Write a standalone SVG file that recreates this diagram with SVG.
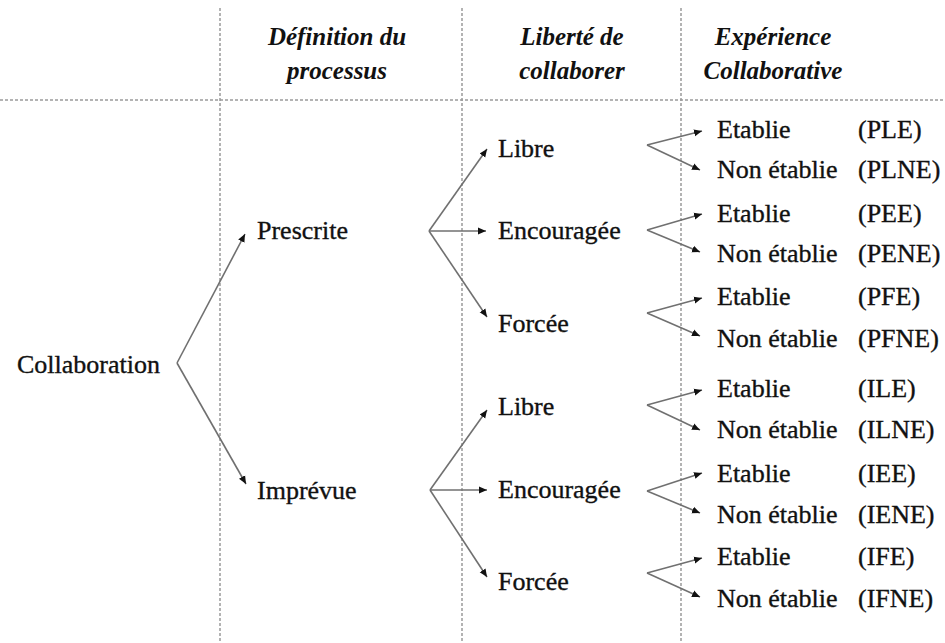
<svg xmlns="http://www.w3.org/2000/svg" width="945" height="643" viewBox="0 0 945 643">
<defs>
<style>
.t{font-family:'Liberation Serif','Times New Roman',serif;font-size:26px;fill:#111;stroke:#111;stroke-width:0.35}
.h{font-family:'Liberation Serif','Times New Roman',serif;font-size:25px;font-weight:bold;font-style:italic;fill:#111;text-anchor:middle}
.sep{stroke:#9a9a9a;stroke-width:1.5;stroke-dasharray:3 2;fill:none}
.c{stroke:#707070;stroke-width:1.6;fill:none;marker-end:url(#ah)}
</style>
<marker id="ah" markerUnits="userSpaceOnUse" markerWidth="9" markerHeight="8" refX="8" refY="4" orient="auto">
<path d="M0,0.5 L8,4 L0,7.5 Z" fill="#111"/>
</marker>
</defs>
<rect width="945" height="643" fill="#fff"/>
<g id="grid">
<line class="sep" x1="220" y1="8" x2="220" y2="643"/>
<line class="sep" x1="462" y1="8" x2="462" y2="643"/>
<line class="sep" x1="681" y1="8" x2="681" y2="643"/>
<line class="sep" x1="0" y1="100" x2="945" y2="100"/>
</g>
<g id="headers">
<text class="h" x="337" y="45">Définition du</text>
<text class="h" x="337" y="79">processus</text>
<text class="h" x="572" y="45">Liberté de</text>
<text class="h" x="572" y="79">collaborer</text>
<text class="h" x="773" y="45">Expérience</text>
<text class="h" x="773" y="79">Collaborative</text>
</g>
<g id="connectors">
<line class="c" x1="177" y1="363" x2="245" y2="234"/>
<line class="c" x1="177" y1="363" x2="246" y2="484"/>
<line class="c" x1="429" y1="231" x2="487" y2="149"/>
<line class="c" x1="429" y1="231" x2="486" y2="231"/>
<line class="c" x1="429" y1="231" x2="487" y2="317"/>
<line class="c" x1="430" y1="490" x2="487" y2="410"/>
<line class="c" x1="430" y1="490" x2="487" y2="490"/>
<line class="c" x1="430" y1="490" x2="487" y2="577"/>
<line class="c" x1="647" y1="145" x2="702" y2="131"/>
<line class="c" x1="647" y1="145" x2="700" y2="170"/>
<line class="c" x1="647" y1="230" x2="702" y2="214"/>
<line class="c" x1="647" y1="230" x2="700" y2="252"/>
<line class="c" x1="647" y1="313" x2="702" y2="298"/>
<line class="c" x1="647" y1="313" x2="700" y2="336"/>
<line class="c" x1="647" y1="405" x2="702" y2="390"/>
<line class="c" x1="647" y1="405" x2="700" y2="430"/>
<line class="c" x1="647" y1="491" x2="702" y2="473"/>
<line class="c" x1="647" y1="491" x2="700" y2="513"/>
<line class="c" x1="647" y1="573" x2="702" y2="558"/>
<line class="c" x1="647" y1="573" x2="700" y2="597"/>
</g>
<g id="nodes">
<g id="n-collaboration"><text class="t" x="17" y="373">Collaboration</text></g>
<g id="n-prescrite"><text class="t" x="257" y="239">Prescrite</text></g>
<g id="n-imprevue"><text class="t" x="257" y="499">Imprévue</text></g>
<g id="n-p-libre"><text class="t" x="498" y="157">Libre</text></g>
<g id="n-p-encouragee"><text class="t" x="498" y="239">Encouragée</text></g>
<g id="n-p-forcee"><text class="t" x="498" y="332">Forcée</text></g>
<g id="n-i-libre"><text class="t" x="498" y="415">Libre</text></g>
<g id="n-i-encouragee"><text class="t" x="498" y="498">Encouragée</text></g>
<g id="n-i-forcee"><text class="t" x="498" y="590">Forcée</text></g>
<g id="n-ple"><text class="t" x="717" y="138">Etablie</text><text class="t" x="858" y="138">(PLE)</text></g>
<g id="n-plne"><text class="t" x="717" y="178">Non établie</text><text class="t" x="858" y="178">(PLNE)</text></g>
<g id="n-pee"><text class="t" x="717" y="222">Etablie</text><text class="t" x="858" y="222">(PEE)</text></g>
<g id="n-pene"><text class="t" x="717" y="262">Non établie</text><text class="t" x="858" y="262">(PENE)</text></g>
<g id="n-pfe"><text class="t" x="717" y="305">Etablie</text><text class="t" x="858" y="305">(PFE)</text></g>
<g id="n-pfne"><text class="t" x="717" y="347">Non établie</text><text class="t" x="858" y="347">(PFNE)</text></g>
<g id="n-ile"><text class="t" x="717" y="397">Etablie</text><text class="t" x="858" y="397">(ILE)</text></g>
<g id="n-ilne"><text class="t" x="717" y="438">Non établie</text><text class="t" x="858" y="438">(ILNE)</text></g>
<g id="n-iee"><text class="t" x="717" y="482">Etablie</text><text class="t" x="858" y="482">(IEE)</text></g>
<g id="n-iene"><text class="t" x="717" y="523">Non établie</text><text class="t" x="858" y="523">(IENE)</text></g>
<g id="n-ife"><text class="t" x="717" y="565">Etablie</text><text class="t" x="858" y="565">(IFE)</text></g>
<g id="n-ifne"><text class="t" x="717" y="607">Non établie</text><text class="t" x="858" y="607">(IFNE)</text></g>
</g>
</svg>
